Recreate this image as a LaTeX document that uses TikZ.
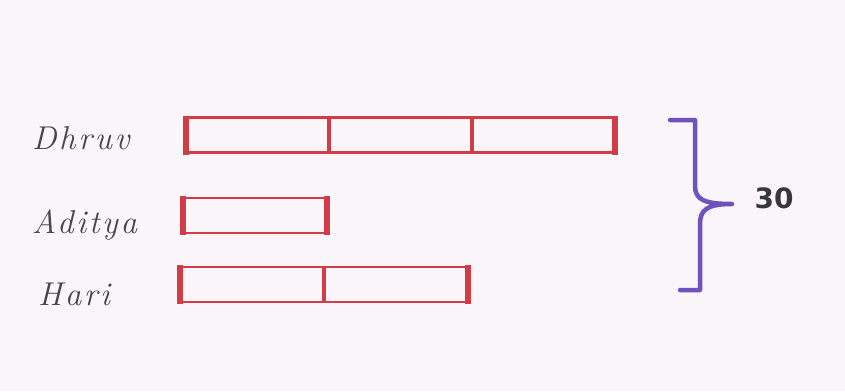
\documentclass[tikz,border=0pt]{standalone}
\usepackage{fontspec}
\usepackage{tikz}
\usetikzlibrary{positioning}
\newfontfamily\handfont[LetterSpace=8]{Latin Modern Roman}
\newfontfamily\markfont{DejaVu Sans}
\definecolor{paper}{RGB}{250,245,248}
\definecolor{barred}{RGB}{210,60,70}
\definecolor{bracepurple}{RGB}{112,82,190}
\definecolor{ink}{RGB}{70,70,70}

\begin{document}
\begin{tikzpicture}[
  x=1pt, y=-1pt,
  cell/.style={draw=barred, line width=2.8pt, minimum height=35pt, minimum width=#1, inner sep=0pt, outer sep=0pt},
  cell/.default=143pt,
  endline/.style={draw=barred, line width=5.5pt, shorten <=-2pt, shorten >=-2pt},
  divline/.style={draw=barred, line width=3.5pt},
  who/.style={anchor=base west, inner sep=0pt, text=ink, font=\handfont\itshape\fontsize{33}{36}\selectfont},
  node distance=0pt
]
\fill[paper] (0,0) rectangle (845,391);
\useasboundingbox (0,0) rectangle (845,391);

% names
\node[who] (dhruv) at (32,149) {Dhruv};
\node[who] (aditya) at (32,233) {Aditya};
\node[who] (hari) at (38,305) {Hari};

% bars
\node[cell] (d1) at (257.5,135) {};
\node[cell, right=of d1] (d2) {};
\node[cell, right=of d2] (d3) {};
\node[cell=144pt] (a1) at (255,215.5) {};
\node[cell=144pt] (h1) at (252,284.5) {};
\node[cell=144pt, right=of h1] (h2) {};

\draw[endline] (d1.north west) -- (d1.south west);
\draw[endline] (d3.north east) -- (d3.south east);
\draw[divline] (d1.north east) -- (d1.south east);
\draw[divline] (d2.north east) -- (d2.south east);
\draw[endline] (a1.north west) -- (a1.south west);
\draw[endline] (a1.north east) -- (a1.south east);
\draw[endline] (h1.north west) -- (h1.south west);
\draw[endline] (h2.north east) -- (h2.south east);
\draw[divline] (h1.north east) -- (h1.south east);

% brace and total
\coordinate (bracetip) at (732,204);
\draw[bracepurple, line width=4.5pt, line cap=round, line join=round]
  (670,120) -- (695,120) -- (695,186)
  .. controls (695,200) and (705,204) .. (bracetip)
  .. controls (707,204) and (700,210) .. (700,224)
  -- (700,290) -- (680,290);
\node[text=ink!80!black, font=\markfont\bfseries\fontsize{28}{30}\selectfont] (total) at (774,198) {30};

\end{tikzpicture}
\end{document}
